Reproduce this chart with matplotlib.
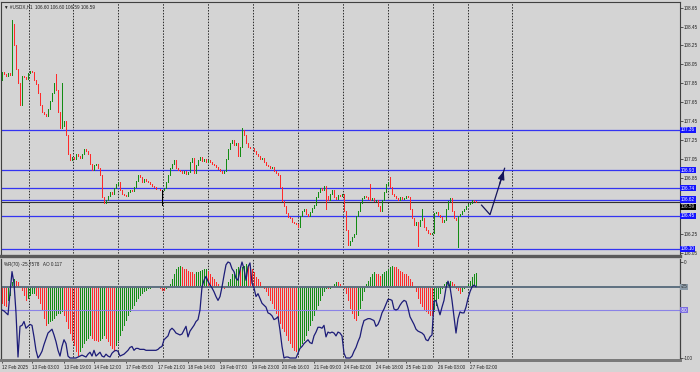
import matplotlib.pyplot as plt
import numpy as np
from matplotlib import font_manager
from matplotlib.transforms import blended_transform_factory

# ===== チャートの値 (USDX H1)
closes = [
    107.97, 107.95, 107.93, 107.96, 107.94, 108.48, 108.25, 108.00, 107.85, 107.62,
    107.93, 107.92, 107.90, 107.96, 107.98, 107.97, 107.88, 107.84, 107.75, 107.62,
    107.55, 107.52, 107.50, 107.58, 107.66, 107.75, 107.85, 107.78, 107.55, 107.38,
    107.40, 107.45, 107.30, 107.10, 107.04, 107.07, 107.05, 107.10, 107.08, 107.06,
    107.10, 107.15, 107.13, 107.10, 107.00, 106.93, 106.98, 107.00, 106.95, 106.88,
    106.65, 106.58, 106.62, 106.66, 106.70, 106.68, 106.74, 106.78, 106.80, 106.72,
    106.68, 106.67, 106.66, 106.70, 106.72, 106.71, 106.75, 106.82, 106.88, 106.86,
    106.80, 106.84, 106.82, 106.80, 106.78, 106.76, 106.75, 106.73, 106.73, 106.72,
    106.72, 106.74, 106.80, 106.88, 106.95, 107.00, 107.04, 106.95, 106.93, 106.92,
    106.90, 106.92, 106.89, 106.91, 107.02, 107.06, 106.90, 106.98, 107.04, 107.07,
    107.03, 107.05, 107.02, 107.04, 107.02, 107.00, 106.98, 106.96, 106.94, 106.92,
    106.90, 106.92, 107.05, 107.15, 107.22, 107.25, 107.20, 107.22, 107.08, 107.18,
    107.36, 107.30, 107.22, 107.18, 107.17, 107.16, 107.13, 107.10, 107.08, 107.05,
    107.06, 107.02, 106.99, 106.97, 106.95, 106.96, 106.92, 106.90, 106.88, 106.75,
    106.60, 106.55, 106.48, 106.44, 106.42, 106.38, 106.37, 106.36, 106.33, 106.45,
    106.50, 106.52, 106.47, 106.45, 106.49, 106.53, 106.56, 106.65, 106.70, 106.74,
    106.72, 106.76, 106.66, 106.62, 106.68, 106.72, 106.65, 106.63, 106.67, 106.66,
    106.68, 106.50, 106.30, 106.14, 106.18, 106.22, 106.26, 106.45, 106.50, 106.58,
    106.64, 106.66, 106.65, 106.63, 106.62, 106.64, 106.60, 106.62, 106.55, 106.50,
    106.62, 106.70, 106.78, 106.80, 106.75, 106.68, 106.66, 106.64, 106.62, 106.65,
    106.63, 106.64, 106.66, 106.65, 106.52, 106.42, 106.35, 106.38, 106.34, 106.40,
    106.42, 106.33, 106.30, 106.27, 106.25, 106.27, 106.48, 106.49, 106.46, 106.44,
    106.38, 106.40, 106.52, 106.60, 106.64, 106.50, 106.42, 106.40, 106.45, 106.47,
    106.50, 106.52, 106.55, 106.57, 106.58, 106.62, 106.60, 106.59,
]
first_open = 107.96
# 目立つヒゲだけ
wick_highs = {5: 108.52, 27: 107.95, 30: 107.85, 120: 107.38, 184: 106.78,
              194: 106.86, 210: 106.52}
wick_lows = {0: 107.88, 80: 106.56, 162: 106.52, 208: 106.13, 228: 106.12}

ao_values = [
    -0.143, -0.160, -0.176, -0.118, -0.076, 0.034, 0.059, 0.050, 0.034, 0.008,
    -0.042, -0.084, -0.126, -0.101, -0.084, -0.067, -0.059, -0.076, -0.109, -0.151,
    -0.202, -0.269, -0.336, -0.319, -0.302, -0.286, -0.269, -0.252, -0.235, -0.227,
    -0.218, -0.252, -0.302, -0.353, -0.403, -0.454, -0.504, -0.554, -0.588, -0.554,
    -0.521, -0.487, -0.462, -0.437, -0.420, -0.437, -0.454, -0.462, -0.470, -0.454,
    -0.437, -0.420, -0.437, -0.470, -0.504, -0.529, -0.538, -0.504, -0.462, -0.420,
    -0.378, -0.336, -0.294, -0.252, -0.218, -0.185, -0.160, -0.134, -0.109, -0.084,
    -0.067, -0.050, -0.034, -0.025, -0.017, -0.008, -0.004, 0.000, -0.008, -0.017,
    -0.034, -0.042, -0.025, 0.002, 0.025, 0.067, 0.109, 0.143, 0.160, 0.176,
    0.168, 0.151, 0.143, 0.134, 0.126, 0.118, 0.109, 0.118, 0.126, 0.134,
    0.139, 0.143, 0.147, 0.134, 0.109, 0.084, 0.059, 0.034, 0.017, 0.000,
    -0.008, -0.017, 0.000, 0.034, 0.067, 0.101, 0.126, 0.143, 0.160, 0.151,
    0.168, 0.176, 0.185, 0.176, 0.160, 0.143, 0.118, 0.084, 0.059, 0.034,
    0.008, -0.017, -0.050, -0.084, -0.118, -0.151, -0.185, -0.227, -0.269, -0.311,
    -0.353, -0.386, -0.420, -0.454, -0.487, -0.521, -0.538, -0.554, -0.538, -0.512,
    -0.487, -0.454, -0.420, -0.378, -0.336, -0.294, -0.252, -0.210, -0.168, -0.126,
    -0.084, -0.050, -0.017, -0.025, -0.017, 0.008, 0.025, 0.042, 0.034, 0.025,
    0.008, -0.025, -0.067, -0.126, -0.185, -0.235, -0.269, -0.286, -0.252, -0.185,
    -0.118, -0.050, 0.017, 0.050, 0.084, 0.109, 0.118, 0.109, 0.101, 0.092,
    0.101, 0.118, 0.134, 0.151, 0.168, 0.176, 0.168, 0.160, 0.151, 0.134,
    0.118, 0.109, 0.101, 0.092, 0.067, 0.034, -0.008, -0.050, -0.101, -0.143,
    -0.176, -0.202, -0.218, -0.235, -0.244, -0.252, -0.218, -0.168, -0.109, -0.059,
    -0.017, 0.017, 0.034, 0.042, 0.050, 0.042, 0.017, -0.017, -0.042, -0.059,
    -0.050, -0.025, 0.000, 0.025, 0.050, 0.076, 0.101, 0.117,
]

wpr_values = [
    -50, -51, -53, -55, -33, -10, -22, -53, -99, -67,
    -66, -62, -69, -67, -65, -66, -78, -92, -100, -97,
    -93, -86, -80, -74, -72, -70, -76, -83, -92, -98,
    -88, -81, -85, -98, -100, -100, -100, -100, -99, -98,
    -97, -98, -99, -96, -94, -98, -92, -98, -96, -94,
    -98, -99, -96, -98, -99, -95, -93, -92, -93, -98,
    -97, -96, -94, -92, -89, -88, -92, -90, -90, -91,
    -91, -91, -92, -92, -92, -92, -92, -92, -91, -89,
    -88, -81, -79, -77, -71, -69, -71, -74, -75, -76,
    -75, -71, -67, -78, -72, -69, -66, -62, -60, -50,
    -26, -19, -15, -20, -24, -27, -31, -36, -40, -36,
    -26, -14, -3, 0, -1, -7, -10, -17, -19, -8,
    0, -7, -19, -5, -1, -22, -27, -36, -33, -38,
    -43, -45, -47, -53, -54, -56, -60, -59, -57, -71,
    -88, -100, -99, -99, -100, -100, -100, -100, -95, -90,
    -88, -85, -83, -81, -84, -85, -77, -73, -68, -68,
    -69, -66, -78, -73, -74, -73, -74, -77, -73, -74,
    -77, -95, -100, -100, -100, -98, -93, -89, -83, -78,
    -68, -61, -60, -59, -59, -60, -61, -67, -65, -60,
    -53, -49, -44, -39, -39, -40, -49, -50, -49, -45,
    -42, -40, -41, -48, -57, -61, -65, -70, -72, -73,
    -74, -76, -81, -82, -78, -76, -41, -40, -48, -55,
    -47, -40, -27, -20, -26, -40, -57, -74, -59, -52,
    -53, -53, -47, -38, -31, -26, -24, -25.76,
]

level_prices = [107.36, 106.93, 106.74, 106.62, 106.45, 106.10]
bid_price = 106.59
price_ticks = [108.65, 108.45, 108.25, 108.05, 107.85, 107.65, 107.45, 107.25,
               107.05, 106.85, 106.25, 106.05]
date_labels = ["12 Feb 2025", "13 Feb 03:00", "13 Feb 19:00", "14 Feb 12:00",
               "17 Feb 05:00", "17 Feb 21:00", "18 Feb 14:00", "19 Feb 07:00",
               "19 Feb 23:00", "20 Feb 16:00", "21 Feb 09:00", "24 Feb 02:00",
               "24 Feb 18:00", "25 Feb 11:00", "26 Feb 03:00", "27 Feb 02:00"]
date_bars = [0, 15, 31, 46, 62, 78, 93, 109, 125, 140, 156, 171, 187, 202, 218, 234]
grid_bars = [13.5, 35.5, 58, 80.5, 103, 125.5, 148, 170.5, 193, 215.5, 233, 255]
# 手描きの矢印 (バー位置, 価格)
arrow_bars = [239.8, 244.0, 251.3]
arrow_prices = [106.56, 106.46, 106.95]

# ===== 色・フォント
BG = "#d4d4d4"
BULL = "#138c13"
BEAR = "#ff2a2a"
LEVEL = "#3434f2"
_names = {f.name for f in font_manager.fontManager.ttflist}
if "Liberation Sans Narrow" in _names:
    FONT, FS = "Liberation Sans Narrow", 3.8
else:
    FONT, FS = "Liberation Sans", 3.3


def main():
    """メイン関数"""
    n = len(closes)
    idx = np.arange(n)
    c = np.array(closes)
    o = np.concatenate([[first_open], c[:-1]])
    hi = np.maximum(o, c)
    lo = np.minimum(o, c)
    for k, v in wick_highs.items():
        hi[k] = v
    for k, v in wick_lows.items():
        lo[k] = v
    col = np.where(c > o, BULL, np.where(c < o, BEAR, "#000000"))

    fig = plt.figure(figsize=(7, 3.72), dpi=100, facecolor=BG)
    ax = fig.add_axes([1 / 700, (372 - 256) / 372, 679 / 700, 254 / 372])
    ax.set_facecolor(BG)
    ax.set_xlim(-0.5, 339)
    ax.set_ylim(108.71 - 254 / 94.5, 108.71)

    # ローソク足 (1px幅)
    wl = ax.vlines(idx, lo, hi, colors=col, lw=0.6, zorder=3, antialiased=False)
    wl.set_capstyle("projecting")

    # 水平ライン
    for p in level_prices:
        ax.axhline(p, color=LEVEL, lw=0.9, zorder=2)
    ax.axhline(bid_price, color="#303030", lw=0.8, zorder=2)

    # 矢印
    ax.plot(arrow_bars, arrow_prices, color="#14145a", lw=0.9, zorder=4)
    ax.annotate("", xy=(arrow_bars[-1], arrow_prices[-1]),
                xytext=(arrow_bars[-2] + 0.6 * (arrow_bars[-1] - arrow_bars[-2]),
                        arrow_prices[-2] + 0.6 * (arrow_prices[-1] - arrow_prices[-2])),
                arrowprops=dict(arrowstyle="-|>,head_length=0.5,head_width=0.2",
                                color="#14145a", lw=0.9), zorder=4)

    ax.set_xticks([])
    ax.yaxis.tick_right()
    ax.set_yticks(price_ticks)
    ax.set_yticklabels([f"{p:.2f}" for p in price_ticks], fontsize=FS,
                       family=FONT, color="#202020")
    ax.tick_params(axis="y", length=2, width=0.5, pad=1, colors="#202020")

    tr = blended_transform_factory(ax.transAxes, ax.transData)
    for p in level_prices:
        ax.text(1.0015, p, f"{p:.2f}", transform=tr, fontsize=FS, family=FONT,
                color="white", va="center", ha="left", zorder=10, clip_on=False,
                bbox=dict(boxstyle="square,pad=0.12", fc="#1414ff", ec="none"))
    ax.text(1.0015, bid_price - 0.045, f"{bid_price:.2f}", transform=tr,
            fontsize=FS, family=FONT, color="#d0d0d0", va="center", ha="left",
            zorder=9, clip_on=False,
            bbox=dict(boxstyle="square,pad=0.12", fc="#000000", ec="none"))

    ax.text(0.004, 0.992, "\u25bc #USDX,H1  106.60 106.60 106.59 106.59",
            transform=ax.transAxes, fontsize=FS, family=FONT, color="#202020",
            va="top", ha="left")

    for s in ["top", "left", "right"]:
        ax.spines[s].set_color("#404040")
        ax.spines[s].set_linewidth(0.8)
    ax.spines["bottom"].set_color("#5a5a5a")
    ax.spines["bottom"].set_linewidth(2.4)

    # ===== インジケーター (AO + %R)
    ax_ao = fig.add_axes([1 / 700, (372 - 360) / 372, 679 / 700, 101 / 372])
    ax_ao.set_facecolor(BG)
    ax_ao.set_xlim(-0.5, 339)
    ax_ao.set_ylim(-(360 - 286.5) / 119, (286.5 - 259) / 119)
    ao = np.array(ao_values)
    ao_col = [BEAR] + [BULL if ao[i] > ao[i - 1] else BEAR for i in range(1, n)]
    ax_ao.bar(idx, ao, width=0.5, color=ao_col, lw=0, antialiased=False, zorder=2)
    ax_ao.axhline(0, color="#5d7080", lw=1.4, zorder=3)
    ax_ao.set_yticks([])

    ax_ao.set_xticks(date_bars)
    ax_ao.set_xticklabels(date_labels, fontsize=FS, family=FONT, color="#202020")
    ax_ao.tick_params(axis="x", length=2, width=0.5, pad=1.5, colors="#202020")
    for lab in ax_ao.get_xticklabels():
        lab.set_horizontalalignment("left")

    ax_w = ax_ao.twinx()
    ax_w.set_ylim(-100 - 2 / 0.96, 3 / 0.96)
    ax_w.axhline(-50, color="#8a82e6", lw=0.8, zorder=1)
    ax_w.plot(idx, wpr_values, color="#1c1c78", lw=0.9, zorder=4)
    ax_w.set_yticks([0, -100])
    ax_w.set_yticklabels(["0", "-100"], fontsize=FS, family=FONT, color="#202020")
    ax_w.tick_params(axis="y", length=2, width=0.5, pad=1, colors="#202020")

    trw = blended_transform_factory(ax_w.transAxes, ax_w.transData)
    ax_w.text(1.0015, -50, "-50", transform=trw, fontsize=FS, family=FONT,
              color="white", va="center", ha="left", clip_on=False,
              bbox=dict(boxstyle="square,pad=0.12", fc="#7c6ee0", ec="none"))
    ax_w.text(1.0015, -25.76, "-25", transform=trw, fontsize=FS, family=FONT,
              color="#303030", va="center", ha="left", clip_on=False,
              bbox=dict(boxstyle="square,pad=0.12", fc="#8a9aa8", ec="none"))

    ax_w.text(0.004, 0.97, "%R(70) -25.7578   AO 0.117", transform=ax_w.transAxes,
              fontsize=FS, family=FONT, color="#202020", va="top", ha="left")

    for a in (ax_ao, ax_w):
        for s in ["top", "left", "right"]:
            a.spines[s].set_color("#404040")
            a.spines[s].set_linewidth(0.8)
        a.spines["top"].set_visible(False)
        a.spines["bottom"].set_color("#7a7a7a")
        a.spines["bottom"].set_linewidth(2.0)

    # 縦グリッド (点線)
    for g in grid_bars:
        ax.axvline(g, color="#2a2a2a", lw=0.7, ls=(0, (1.5, 1.5)), zorder=1)
        ax_ao.axvline(g, color="#2a2a2a", lw=0.7, ls=(0, (1.5, 1.5)), zorder=1)

    fig.savefig("out.png", dpi=100, facecolor=BG)


if __name__ == "__main__":
    main()
